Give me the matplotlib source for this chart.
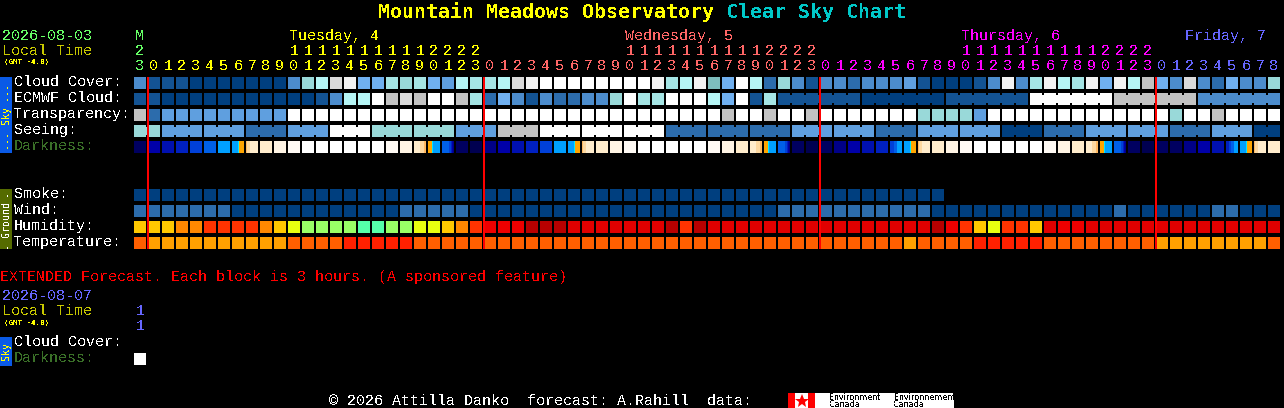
import matplotlib
matplotlib.use("Agg")
import matplotlib.pyplot as plt
from matplotlib.patches import Rectangle

W = 1284
H = 408
LEFT = 134
STEP = 14
CELL = 12
MONO = "Liberation Mono"

# hour of each column: 23h Monday, then Tue, Wed, Thu, and Friday up to 8h
hours = [23] + list(range(24)) * 3 + list(range(9))
day_names = ["M", "Tuesday, 4", "Wednesday, 5", "Thursday, 6", "Friday, 7"]
day_start_col = [0, 11, 35, 59, 75]
day_colors = ["#66ff66", "#ffff00", "#ff6666", "#ff00ff", "#6666ff"]
midnight_cols = [1, 25, 49, 73]

# sky levels, darkest to whitest
sky_colors = ["#003f7f", "#135393", "#2c6cac", "#4c8ccc", "#5f9fdf", "#70b0f0", "#7ebebe",
              "#99d9d9", "#a5e5e5", "#b5f5f5", "#c2c2c2", "#dadada", "#f2f2f2", "#ffffff"]

cloud = [3, 1, 1, 1, 0, 0, 0, 0, 0, 0, 0, 3, 7, 9, 11, 12, 5, 5, 8, 7, 8,
         5, 4, 9, 8, 8, 9, 11, 12, 13, 13, 13, 13, 13, 13, 13, 13, 12, 8, 9, 12,
         6, 5, 13, 9, 2, 7, 3, 1, 3, 3, 2, 3, 3, 3, 4, 1, 0, 0, 0, 1, 3,
         12, 3, 8, 12, 9, 8, 12, 5, 12, 9, 10, 5, 3, 11, 3, 2, 5, 3, 3, 7]
ecmwf = [1, 1, 0, 0, 0, 0, 0, 0, 0, 0, 0, 0, 0, 1, 3, 9, 9, 13, 10, 11, 10,
         13, 13, 10, 8, 2, 5, 3, 1, 3, 2, 2, 3, 3, 7, 13, 8, 8, 13, 13, 13,
         9, 5, 13, 1, 8]
ecmwf_blocks = [1, 0, 1, 13, 10, 3]
transparency = [10, 2, 4, 4, 4, 4, 4, 4, 4, 4, 4, 13, 13, 13, 13, 13, 13, 13, 13, 13, 13,
                13, 13, 13, 13, 13, 13, 13, 13, 13, 13, 13, 13, 13, 13, 13, 13, 13, 13, 13, 13,
                13, 10, 13, 13, 10, 13, 13, 10, 13, 13, 13, 13, 13, 13, 13, 7, 7, 7, 7, 4, 13,
                13, 13, 13, 13, 13, 13, 13, 13, 13, 13, 13, 13, 7, 13, 13, 10, 13, 13, 13, 13]
seeing_blocks = [7, 4, 4, 2, 4, 13, 7, 7, 4, 10, 13, 13, 13, 2, 2, 2, 4, 4, 2, 4, 4, 0, 2, 4, 4, 2, 4, 0]
smoke = [0] * 58
wind = [2, 2, 2, 2, 2, 2, 2, 0, 0, 0, 0, 0, 0, 0, 0, 0, 0, 0, 0, 2, 2,
        2, 2, 2, 0, 0, 0, 0, 0, 0, 0, 0, 0, 0, 0, 0, 0, 0, 0, 0, 0,
        0, 0, 0, 0, 0, 2, 2, 2, 2, 2, 2, 2, 2, 2, 2, 2, 0, 0, 0, 0, 0,
        0, 0, 0, 0, 0, 0, 0, 0, 2, 0, 0, 0, 0, 0, 0, 2, 2, 0, 0, 0]

# darkness: one level for a whole cell or a tuple of stripes across it
dark_colors = ["#000050", "#000060", "#000088", "#0000a8", "#0010b0", "#0020c0", "#0040d8",
               "#0060e8", "#00a0ff", "#00e8ff", "#ffa500", "#ffb860", "#fdd8a0", "#ffeccc",
               "#fff4e4", "#fffaf4", "#ffffff"]
dusk = (8, 8, 8, 8, 8, 8, 9, 10, 10, 10, 10, 10)
dawn = (10, 10, 10, 10, 9, 8, 8, 8, 8, 8, 8, 8)
after_dusk = (11, 12, 12, 12, 13, 13, 13, 13, 13, 13, 13, 13)
before_dawn = (13, 13, 13, 13, 13, 13, 12, 12, 12, 12, 11, 11)
darkness = [1, 3, 4, 5, 6, 7, 8, dusk, after_dusk, 13, 14, 15, 16, 16, 16, 16, 16, 16, 15, 14, before_dawn,
            dawn, (7, 7, 7, 7, 7, 7, 7, 6, 6, 5, 3, 2), 1, 0, 2, 3, 4, 5, 6, 8, dusk,
            after_dusk, 13, 14, 15, 16, 16, 16, 16, 16, 15, 14, 13, before_dawn,
            dawn, (7, 7, 7, 7, 7, 7, 7, 6, 6, 5, 3, 2), 1, 0, 1, 2, 3, 4, 5,
            (6, 6, 6, 6, 7, 7, 7, 8, 8, 8, 8, 8), dusk, after_dusk, 13, 14, 15, 16, 16, 16, 16, 16,
            15, 14, 13, before_dawn, dawn, (7, 7, 7, 7, 7, 7, 7, 6, 6, 5, 3, 2), 1, 0, 1, 1, 2, 3, 4,
            (5, 5, 5, 6, 6, 7, 7, 7, 8, 8, 8, 8), dusk, after_dusk, 13]

humidity_colors = ["#b80000", "#e00000", "#ee0000", "#ff3300", "#ff8800", "#ffc800", "#e8ff10", "#99ff66", "#55ffaa"]
humidity = [5, 5, 5, 4, 4, 3, 3, 3, 3, 4, 5, 6, 7, 7, 7, 7, 8, 8, 7, 7, 6,
            6, 5, 4, 3, 2, 2, 2, 0, 0, 0, 1, 1, 1, 1, 1, 1, 1, 0, 3, 0,
            1, 1, 1, 1, 1, 1, 1, 1, 1, 1, 1, 1, 1, 1, 1, 1, 0, 2, 3, 5, 6,
            3, 3, 5, 1, 2, 2, 1, 1, 1, 1, 1, 1, 1, 1, 1, 1, 1, 1, 1, 1]
temp_colors = ["#ff2000", "#ff5f00", "#ffa000"]
temperature = [1, 2, 2, 2, 2, 2, 2, 2, 2, 2, 2, 1, 1, 1, 1, 0, 0, 0, 0, 0, 1] + [1] * 31 + \
              [1, 1, 1, 2, 1, 1, 1, 1, 0, 0, 0, 0, 0, 1, 1, 1, 1, 1, 1, 1, 1, 2, 2, 2, 2, 2, 2, 2, 2, 1]

sky_labels = ["Cloud Cover:", "ECMWF Cloud:", "Transparency:", "Seeing:", "Darkness:"]
ground_labels = ["Smoke:", "Wind:", "Humidity:", "Temperature:"]


def cell_x(col):
    return LEFT + STEP * col


def expand_seeing(blocks):
    # first block only has 2 columns left of the 3 hour grid
    out, groups, col = [], [], 0
    for n, v in enumerate(blocks):
        size = 2 if n == 0 else 3
        out += [v] * size
        groups.append((col, col + size))
        col += size
    return out[:82], groups


def draw_row(ax, top, values, palette, groups=()):
    for col, v in enumerate(values):
        ax.add_patch(Rectangle((cell_x(col), top), CELL, CELL, color=palette[v], lw=0))
    # joined blocks have a narrow neck across the gap
    for start, end in groups:
        for col in range(start, min(end, len(values)) - 1):
            ax.add_patch(Rectangle((cell_x(col) + CELL, top + 2), STEP - CELL, CELL - 4,
                                   color=palette[values[col]], lw=0))


def draw_darkness(ax, top, values):
    for col, v in enumerate(values):
        stripes = v if isinstance(v, tuple) else (v,)
        width = CELL / len(stripes)
        for n, level in enumerate(stripes):
            ax.add_patch(Rectangle((cell_x(col) + n * width, top), width, CELL, color=dark_colors[level], lw=0))


def label(ax, x, y, s, color="white", size=10.8, weight="normal", ha="left", family=MONO):
    ax.text(x, y, s, color=color, fontsize=size, fontweight=weight, family=family, ha=ha,
            va="baseline", antialiased=False)


def side_text(ax, y, s, color, size):
    ax.text(6, y, s, color=color, fontsize=size, family="DejaVu Sans Mono", ha="center", va="center",
            rotation=90, antialiased=False)


fig = plt.figure(figsize=(W / 100, H / 100), dpi=100, facecolor="black")
ax = fig.add_axes([0, 0, 1, 1])
ax.set_xlim(0, W)
ax.set_ylim(H, 0)
ax.axis("off")

# title
label(ax, 378, 18, "Mountain Meadows Observatory", "#ffff00", 14.4, "bold", family="DejaVu Sans Mono")
label(ax, 726, 18, "Clear Sky Chart", "#00c8c8", 14.4, "bold", family="DejaVu Sans Mono")

# left header
label(ax, 2, 40, "2026-08-03", "#66ff66")
label(ax, 2, 55, "Local Time", "#c8c800")
label(ax, 4, 64, "(GMT -4.0)", "#ffff00", 5.4, "bold", family="DejaVu Sans Mono")

# time axis
for col, h in enumerate(hours):
    day = sum(col >= m for m in midnight_cols)
    x = cell_x(col) + CELL / 2
    label(ax, x, 70, str(h % 10), day_colors[day], ha="center")
    if h >= 10:
        label(ax, x, 55, str(h // 10), day_colors[day], ha="center")
for name, col, color in zip(day_names, day_start_col, day_colors):
    label(ax, cell_x(col) + 1, 40, name, color)

# sky block
ax.add_patch(Rectangle((0, 77), 12, 76, color="#0a5ae6", lw=0))
side_text(ax, 91, "---", "#ffff00", 7.2)
side_text(ax, 115, "Sky", "#ffff00", 7.2)
side_text(ax, 139, "---", "#ffff00", 7.2)
for n, s in enumerate(sky_labels):
    label(ax, 14, 86 + 16 * n, s, "#3a7028" if s == "Darkness:" else "white")

seeing, seeing_groups = expand_seeing(seeing_blocks)
ecmwf_all = list(ecmwf)
ecmwf_groups = []
for v in ecmwf_blocks:
    ecmwf_groups.append((len(ecmwf_all), len(ecmwf_all) + 6))
    ecmwf_all += [v] * 6
draw_row(ax, 77, cloud, sky_colors)
draw_row(ax, 93, ecmwf_all, sky_colors, ecmwf_groups)
draw_row(ax, 109, transparency, sky_colors)
draw_row(ax, 125, seeing, sky_colors, seeing_groups)
draw_darkness(ax, 141, darkness)

# ground block
ax.add_patch(Rectangle((0, 189), 12, 60, color="#556b00", lw=0))
side_text(ax, 193, "-", "white", 7.2)
side_text(ax, 219, "Ground", "white", 7.2)
side_text(ax, 245, "-", "white", 7.2)
for n, s in enumerate(ground_labels):
    label(ax, 14, 198 + 16 * n, s)
draw_row(ax, 189, smoke, sky_colors)
draw_row(ax, 205, wind, sky_colors)
draw_row(ax, 221, humidity, humidity_colors)
draw_row(ax, 237, temperature, temp_colors)

# midnight markers
for col in midnight_cols:
    ax.add_patch(Rectangle((cell_x(col) - 1, 77), 2, 172, color="#ff0000", lw=0))

# extended forecast
label(ax, 0, 281, "EXTENDED Forecast. Each block is 3 hours. (A sponsored feature)", "#ff0000")
label(ax, 2, 300, "2026-08-07", "#6666ff")
label(ax, 2, 315, "Local Time", "#c8c800")
label(ax, 4, 325, "(GMT -4.0)", "#ffff00", 5.4, "bold", family="DejaVu Sans Mono")
label(ax, cell_x(0) + CELL / 2, 315, "1", "#6666ff", ha="center")
label(ax, cell_x(0) + CELL / 2, 330, "1", "#6666ff", ha="center")
ax.add_patch(Rectangle((0, 337), 12, 29, color="#0a5ae6", lw=0))
side_text(ax, 351, "Sky", "#ffff00", 7.2)
label(ax, 14, 346, "Cloud Cover:")
label(ax, 14, 362, "Darkness:", "#3a7028")
draw_darkness(ax, 353, [16])

# footer and logos
label(ax, 329, 405, "\u00a9 2026 Attilla Danko  forecast: A.Rahill  data:")
ax.add_patch(Rectangle((788, 393), 166, 15, color="white", lw=0))
ax.add_patch(Rectangle((788, 393), 7, 15, color="#ff0000", lw=0))
ax.add_patch(Rectangle((808, 393), 7, 15, color="#ff0000", lw=0))
ax.plot([801.5], [400.5], marker="*", ms=10, color="#ff0000", mew=0)
for x, s in [(829, "Environment"), (894, "Environnement")]:
    ax.text(x, 400, s, color="black", fontsize=5.8, family="DejaVu Sans", antialiased=False)
    ax.text(x, 407, "Canada", color="black", fontsize=5.8, family="DejaVu Sans", antialiased=False)

fig.savefig("out.png", dpi=100, facecolor="black")
